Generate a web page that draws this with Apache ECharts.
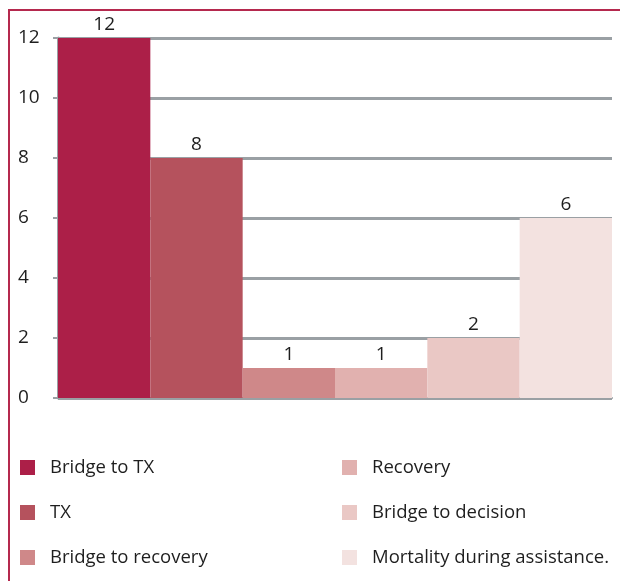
<!DOCTYPE html>
<html><head><meta charset="utf-8">
<script src="https://cdn.jsdelivr.net/npm/echarts@6/dist/echarts.min.js"></script>
<style>html,body{margin:0;padding:0;background:#fff}#c{width:620px;height:581px}</style>
</head><body><div id="c"></div>
<script>
var categories = ['Bridge to TX','TX','Bridge to recovery','Recovery','Bridge to decision','Mortality during assistance.'];
var values = [12, 8, 1, 1, 2, 6];
var colors = ['#AC1F48','#B5525D','#CF8889','#E1B1AF','#EAC8C5','#F3E2E0'];
var yTicks = [0, 2, 4, 6, 8, 10, 12];

var font = '"Open Sans", "DejaVu Sans", sans-serif';
var series = categories.map(function(name, i){
  var d = categories.map(function(_, j){ return j === i ? values[i] : '-'; });
  return {
    name: name, type: 'bar', stack: 'all', data: d, barWidth: '100%',
    itemStyle: {color: colors[i]},
    label: {show: true, position: 'top', distance: 4, color: '#1e1e1e', fontSize: 19, fontFamily: font,
      formatter: function(p){ return p.value; }}
  };
});
var legendText = {fontSize: 18.5, color: '#1e1e1e', fontFamily: font, padding: [0,0,0,10]};
var chart = echarts.init(document.getElementById('c'));
chart.setOption({
  animation: false,
  grid: {left: 58, right: 8, top: 38, bottom: 183},
  xAxis: {type: 'category', data: categories, axisLabel: {show: false}, axisTick: {show: false},
    axisLine: {lineStyle: {color: '#9AA0A4', width: 2}}},
  yAxis: {type: 'value', min: 0, max: 12, interval: 2,
    axisLine: {show: true, lineStyle: {color: '#9AA0A4', width: 3}},
    axisTick: {show: true, length: 5, lineStyle: {color: '#9AA0A4', width: 2}},
    splitLine: {lineStyle: {color: '#9AA0A4', width: 3}},
    axisLabel: {align: 'left', margin: 40, color: '#1e1e1e', fontSize: 19, fontFamily: font,
      verticalAlign: 'middle', padding: [0,0,4,0],
      formatter: function(v){ return yTicks.indexOf(v) >= 0 ? String(v) : ''; }}},
  legend: [
    {data: categories.slice(0,3), orient: 'vertical', left: 20, top: 458, padding: 0, height: 120, width: 300, itemWidth: 15, itemHeight: 15, itemGap: 26,
      icon: 'rect', textStyle: legendText, selectedMode: false},
    {data: categories.slice(3), orient: 'vertical', left: 342, top: 458, padding: 0, height: 120, width: 278, itemWidth: 15, itemHeight: 15, itemGap: 26,
      icon: 'rect', textStyle: legendText, selectedMode: false}
  ],
  graphic: [{type: 'polyline', shape: {points: [[9,581],[9,10],[620,10]]},
    style: {stroke: '#B5294E', lineWidth: 2, fill: null}, silent: true}],
  series: series
});
</script></body></html>
